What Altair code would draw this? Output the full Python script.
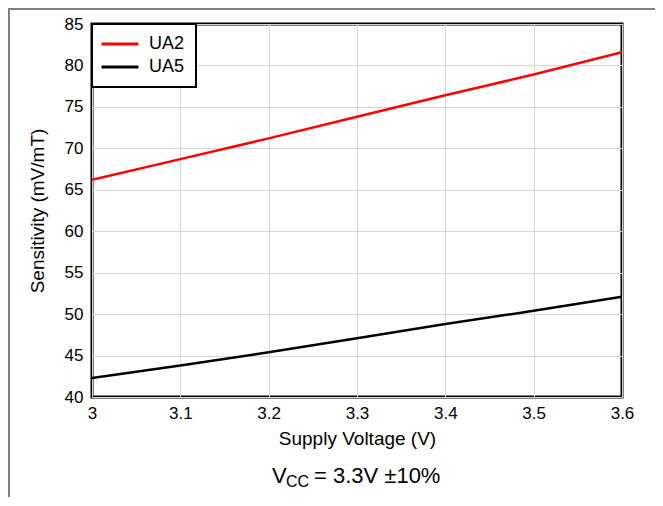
import altair as alt
import pandas as pd

voltage = [3.0, 3.1, 3.2, 3.3, 3.4, 3.5, 3.6]
ua2 = [66.2, 68.7, 71.2, 73.8, 76.4, 78.9, 81.6]
ua5 = [42.3, 43.8, 45.4, 47.1, 48.8, 50.4, 52.1]
series = ["UA2", "UA5"]
colors = ["#ff0000", "#000000"]
x_ticks = [3.0, 3.1, 3.2, 3.3, 3.4, 3.5, 3.6]
y_ticks = [40, 45, 50, 55, 60, 65, 70, 75, 80, 85]

rows = []
for v, a, b in zip(voltage, ua2, ua5):
    rows.append({"Voltage": v, "Sensitivity": a, "Series": "UA2"})
    rows.append({"Voltage": v, "Sensitivity": b, "Series": "UA5"})
df = pd.DataFrame(rows)

W, H = 530, 373
FONT = "Liberation Sans"

lines = alt.Chart(df).mark_line(strokeWidth=2.5, clip=True).encode(
    x=alt.X("Voltage:Q",
            scale=alt.Scale(domain=[3.0, 3.6], nice=False, zero=False),
            axis=alt.Axis(values=x_ticks, format=".1~f", title="Supply Voltage (V)",
                          grid=True, domain=False, ticks=False, labelPadding=8,
                          labelFlush=False,
                          labelFontSize=17, titleFontSize=19, titlePadding=8,
                          labelColor="black", titleColor="black", titleFontWeight="normal",
                          labelFont=FONT, titleFont=FONT, gridColor="#d4d4d4", gridWidth=1)),
    y=alt.Y("Sensitivity:Q",
            scale=alt.Scale(domain=[40, 85], nice=False, zero=False),
            axis=alt.Axis(values=y_ticks, title="Sensitivity (mV/mT)",
                          grid=True, domain=False, ticks=False, labelPadding=9,
                          labelFontSize=17, titleFontSize=19, titlePadding=17,
                          labelColor="black", titleColor="black", titleFontWeight="normal",
                          labelFont=FONT, titleFont=FONT, gridColor="#d4d4d4", gridWidth=1)),
    color=alt.Color("Series:N",
                    scale=alt.Scale(domain=series, range=colors),
                    legend=alt.Legend(title=None, orient="none", legendX=0, legendY=0,
                                      fillColor="white", strokeColor="black",
                                      padding=11, rowPadding=5,
                                      symbolType="M-2.5,0L2.5,0", symbolSize=219,
                                      symbolStrokeWidth=3, symbolOffset=8,
                                      labelOffset=20, labelFontSize=18,
                                      labelFont=FONT, labelColor="black")),
)

sub_y = H + 79
v_txt = alt.Chart(pd.DataFrame({"t": ["V"]})).mark_text(
    fontSize=22, font=FONT, align="left", baseline="middle", color="black"
).encode(text="t:N", x=alt.value(180), y=alt.value(sub_y))
cc_txt = alt.Chart(pd.DataFrame({"t": ["CC"]})).mark_text(
    fontSize=16, font=FONT, align="left", baseline="middle", color="black"
).encode(text="t:N", x=alt.value(194), y=alt.value(sub_y + 6))
rest_txt = alt.Chart(pd.DataFrame({"t": ["= 3.3V \u00b110%"]})).mark_text(
    fontSize=22, font=FONT, align="left", baseline="middle", color="black"
).encode(text="t:N", x=alt.value(222), y=alt.value(sub_y))

border_top = alt.Chart(pd.DataFrame({"a": [0]})).mark_rule(color="#808080", strokeWidth=2).encode(
    x=alt.value(-84), x2=alt.value(W + 40), y=alt.value(-15))
border_left = alt.Chart(pd.DataFrame({"a": [0]})).mark_rule(color="#808080", strokeWidth=2).encode(
    x=alt.value(-83), y=alt.value(-16), y2=alt.value(H + 110))

chart = alt.layer(lines, v_txt, cc_txt, rest_txt, border_top, border_left).properties(
    width=W, height=H,
    autosize=alt.AutoSizeParams(type="none"),
    padding={"left": 84, "top": 16, "right": 33, "bottom": 100},
    background="white",
).configure_view(stroke="black", strokeWidth=3).configure_legend(strokeWidth=2)

chart.save("out.html", embed_options={"renderer": "svg", "actions": False})
